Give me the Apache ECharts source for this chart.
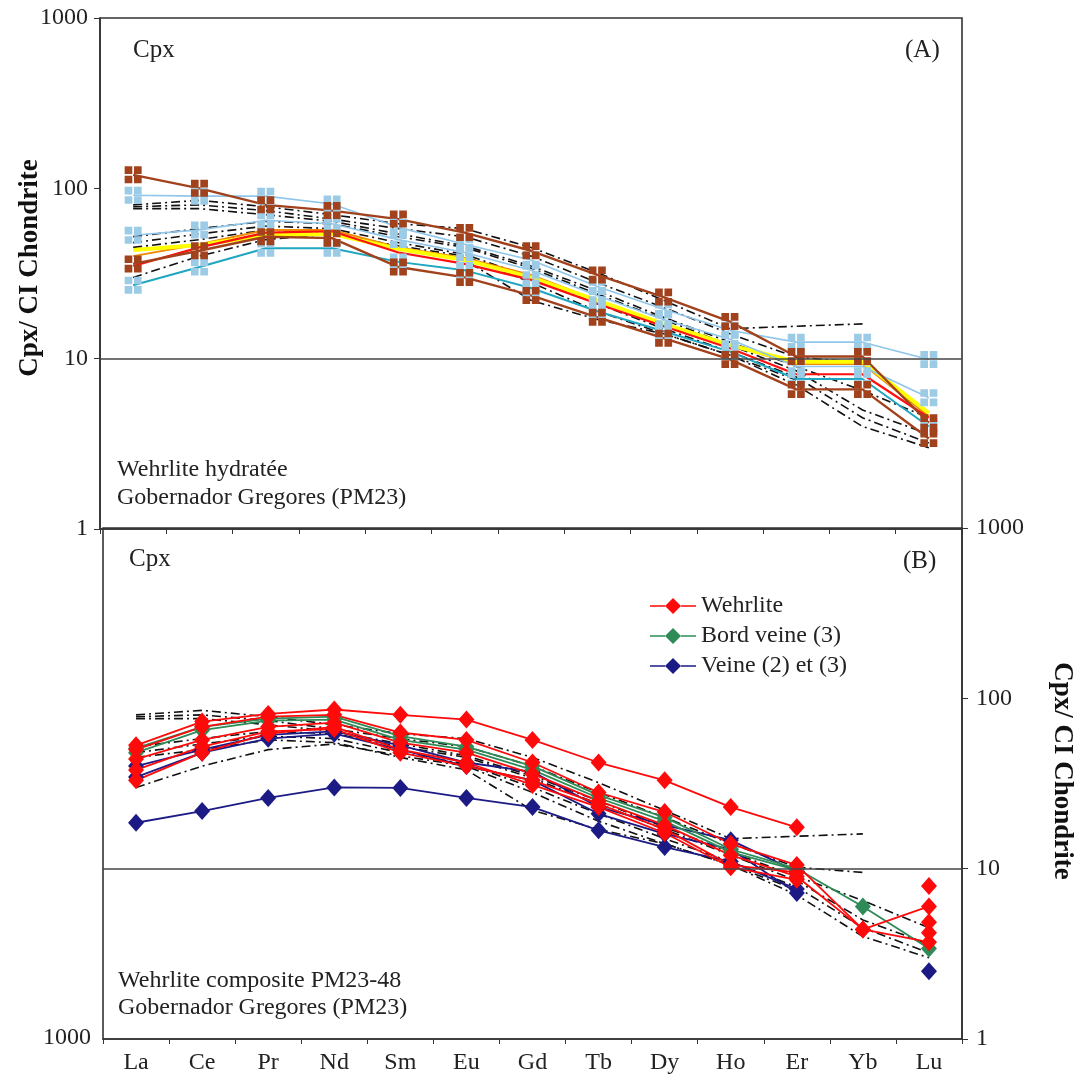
<!DOCTYPE html>
<html>
<head>
<meta charset="utf-8">
<script src="https://cdn.jsdelivr.net/npm/echarts@6/dist/echarts.min.js"></script>
<style>
html,body{margin:0;padding:0;background:#fff;}
#chart{width:1082px;height:1080px;}
</style>
</head>
<body>
<div id="chart"></div>
<script>
// ---------- DATA ----------
const categories = ['La','Ce','Pr','Nd','Sm','Eu','Gd','Tb','Dy','Ho','Er','Yb','Lu'];
const yTickLabels = ['1','10','100','1000'];

// Panel A (Wehrlite hydratée) - clinopyroxene / CI chondrite
const aBrownHigh = [120, 100, 80, 74, 66, 55, 43, 31, 23, 16.5, 10.3, 10.3, 4.2];
const aBrownLow  = [36, 43, 52, 51, 34.5, 30, 23.5, 17.5, 13.2, 9.9, 6.6, 6.6, 3.4];
const aBlueHigh  = [91, 90, 90, 81, 59, 47, 38, 26.5, 19.5, 14.7, 12.5, 12.5, 9.9];
const aBlueMid   = [53, 57, 65, 62, 50, 42, 33, 23.5, 17, 13, 9, 9, 5.9];
const aBlueLow   = [27, 34.5, 44.5, 44.5, 37, 33, 26, 19, 14.5, 11, 7.6, 7.6, 4.0];
const aYellow    = [43.5, 46.5, 53, 54, 44, 38, 30, 22, 16, 12, 9.6, 9.6, 4.8];
const aRed       = [35, 45, 55, 56, 42, 36, 29, 21, 15.5, 11.5, 8.1, 8.1, 4.5];
const aOrange    = [40, 47, 57, 57, 45, 39, 31, 22, 16, 12, 9.3, 9.3, 4.6];

// Reference field (dash-dot), shown in both panels
const ref1 = [80, 85, 78, 70, 62, 58, 45, 32, 22, 15, 15.5, 16, null];
const ref2 = [78, 80, 74, 66, 58, 52, 40, 28, 20, 14, 10.2, 9.5, null];
const ref3 = [76, 76, 70, 64, 54, 46, 35, 25, 17.5, 12.5, 9, 6.5, 4.5];
const ref4 = [52, 58, 64, 62, 52, 45, 34, 24, 17, 12, 8.5, 5, 3.6];
const ref5 = [48, 54, 60, 58, 48, 41, 30, 21, 15, 11, 7.8, 4.5, 3.2];
const ref6 = [45, 50, 57, 55, 45, 38, 22, 17, 14, 10.5, 7, 4, 3.0];
const ref7 = [30, 40, 50, 54, 46, 40, 28, 19, 14, 10.5, 7.5, null, null];

// Panel B (Wehrlite composite PM23-48)
const bWehrlite1 = [53, 73, 81, 86, 80, 75, 57, 42, 33, 23, 17.5, null, 7.9];
const bWehrlite2 = [50, 68, 78, 80, 63, 57, 42, 28, 21.5, 14, 10.5, 4.4, 6.0];
const bWehrlite3 = [44, 57, 68, 72, 55, 48, 36, 25, 18, 12, 9, 4.4, 3.7];
const bWehrlite4 = [33, 48, 62, 68, 50, 42, 31, 23, 16.2, 10.2, 8.6, null, 4.85];
const bWehrlite5 = [38, 52, 64, 66, 48, 40, 33, 24, 17, 10.5, 9.5, null, 4.2];
const bBord1     = [51, 68, 76, 78, 60, 52, 40, 27, 20, 13, 10, 6.0, 3.4];
const bBord2     = [48, 65, 74, 75, 57, 50, 38, 26, 19, 12.5, 9.8, null, null];
const bVeine1    = [40, 50, 61, 64, 53, 42, 37, 23, 18, 14.7, 9.6, null, 2.5];
const bVeine2    = [34.5, 48, 58, 62, 50, 40, 33, 21, 16, 13, 7.2, null, null];
const bVeine3    = [18.6, 21.8, 26, 30, 29.8, 26, 23, 16.8, 13.4, 11, 7.6, null, null];

// ---------- STYLE HELPERS ----------
const FONT = 'Liberation Serif';
const crossSquare = 'path://M0,0H7.2V7.2H0Z M8.8,0H16V7.2H8.8Z M0,8.8H7.2V16H0Z M8.8,8.8H16V16H8.8Z';
const legendIcon = 'path://M0,7.2H15V8.8H0Z M23,0L31,8L23,16L15,8Z M31,7.2H46V8.8H31Z';
const refs = [ref1, ref2, ref3, ref4, ref5, ref6, ref7];

function refSeries(idx) {
  return refs.map(r => ({
    type: 'line', xAxisIndex: idx, yAxisIndex: idx, data: r, symbol: 'none',
    lineStyle: {color: '#111', width: 1.6, type: [9, 4, 2, 4]}, z: 1, silent: true
  }));
}
function aLine(name, data, lineColor, width, markerColor) {
  return {
    type: 'line', name: name, xAxisIndex: 0, yAxisIndex: 0, data: data,
    symbol: markerColor ? crossSquare : 'none', symbolSize: 17, showAllSymbol: true,
    itemStyle: {color: markerColor || lineColor},
    lineStyle: {color: lineColor, width: width}, z: markerColor ? 4 : 3
  };
}
function bLine(name, data, color) {
  return {
    type: 'line', name: name, xAxisIndex: 1, yAxisIndex: 1, data: data,
    symbol: 'diamond', symbolSize: [16, 18], showAllSymbol: true,
    itemStyle: {color: color}, lineStyle: {color: color, width: 1.8}, z: 4
  };
}
const RED = '#ff0a0a', GREEN = '#2e8b57', NAVY = '#1c1a84';
const BROWN = '#a2421c', LBLUE = '#9ccbe6';

const tenLine = {
  silent: true, symbol: 'none', label: {show: false},
  lineStyle: {color: '#444', type: 'solid', width: 1.5},
  data: [{yAxis: 10}]
};

const series = [].concat(
  refSeries(0),
  [
    aLine('a1', aOrange, '#f08a00', 2),
    aLine('a2', aYellow, '#ffff00', 4),
    aLine('a3', aRed, '#ff1010', 2.2),
    aLine('a4', aBlueLow, '#1fa6c0', 2, LBLUE),
    aLine('a5', aBlueMid, '#8fc6ea', 1.6, LBLUE),
    aLine('a6', aBlueHigh, '#8fc6ea', 1.6, LBLUE),
    aLine('a7', aBrownLow, BROWN, 2.4, BROWN),
    aLine('a8', aBrownHigh, BROWN, 2.4, BROWN)
  ],
  refSeries(1),
  [
    bLine('Veine (2) et (3)', bVeine3, NAVY),
    bLine('Veine (2) et (3)', bVeine2, NAVY),
    bLine('Veine (2) et (3)', bVeine1, NAVY),
    bLine('Bord veine (3)', bBord2, GREEN),
    bLine('Bord veine (3)', bBord1, GREEN),
    bLine('Wehrlite', bWehrlite5, RED),
    bLine('Wehrlite', bWehrlite4, RED),
    bLine('Wehrlite', bWehrlite3, RED),
    bLine('Wehrlite', bWehrlite2, RED),
    bLine('Wehrlite', bWehrlite1, RED)
  ]
);
series[0].markLine = tenLine;
series[refs.length + 8].markLine = tenLine;

const labelStyle = {fontFamily: FONT, fontSize: 24, color: '#222'};
const axisLineStyle = {lineStyle: {color: '#333', width: 1.6}};

const option = {
  backgroundColor: '#fff',
  animation: false,
  legend: {
    data: [
      {name: 'Wehrlite', icon: legendIcon},
      {name: 'Bord veine (3)', icon: legendIcon},
      {name: 'Veine (2) et (3)', icon: legendIcon}
    ],
    orient: 'vertical', left: 645, top: 589, itemWidth: 46, itemHeight: 16, itemGap: 6,
    textStyle: {fontFamily: FONT, fontSize: 24, color: '#222'}, selectedMode: false
  },
  grid: [
    {left: 100, top: 18, width: 862, height: 511, show: true, borderColor: '#333', borderWidth: 1.6},
    {left: 103, top: 528, width: 859, height: 511, show: true, borderColor: '#333', borderWidth: 1.6}
  ],
  xAxis: [
    {type: 'category', gridIndex: 0, data: categories, boundaryGap: true,
     axisLine: axisLineStyle, axisTick: {show: true, length: 5, lineStyle: {color: '#333'}},
     axisLabel: {show: false}},
    {type: 'category', gridIndex: 1, data: categories, boundaryGap: true,
     axisLine: axisLineStyle, axisTick: {show: true, length: 5, lineStyle: {color: '#333'}},
     axisLabel: Object.assign({margin: 12}, labelStyle)}
  ],
  yAxis: [
    {type: 'log', gridIndex: 0, logBase: 10, min: 1, max: 1000, position: 'left',
     axisLine: Object.assign({show: true}, axisLineStyle),
     axisTick: {show: true, length: 6, lineStyle: {color: '#333'}},
     minorTick: {show: false}, splitLine: {show: false},
     axisLabel: Object.assign({margin: 12, formatter: v => yTickLabels[Math.round(Math.log10(v))]}, labelStyle)},
    {type: 'log', gridIndex: 1, logBase: 10, min: 1, max: 1000, position: 'right',
     axisLine: Object.assign({show: true}, axisLineStyle),
     axisTick: {show: true, length: 6, lineStyle: {color: '#333'}},
     minorTick: {show: false}, splitLine: {show: false},
     axisLabel: Object.assign({margin: 14, formatter: v => yTickLabels[Math.round(Math.log10(v))]}, labelStyle)}
  ],
  graphic: [
    {type: 'text', left: 133, top: 38, style: {text: 'Cpx', font: '25px ' + FONT, fill: '#222'}},
    {type: 'text', left: 905, top: 38, style: {text: '(A)', font: '25px ' + FONT, fill: '#222'}},
    {type: 'text', left: 117, top: 458, style: {text: 'Wehrlite hydratée', font: '24px ' + FONT, fill: '#222'}},
    {type: 'text', left: 117, top: 486, style: {text: 'Gobernador Gregores (PM23)', font: '24px ' + FONT, fill: '#222'}},
    {type: 'text', left: 129, top: 547, style: {text: 'Cpx', font: '25px ' + FONT, fill: '#222'}},
    {type: 'text', left: 903, top: 549, style: {text: '(B)', font: '25px ' + FONT, fill: '#222'}},
    {type: 'text', left: 118, top: 969, style: {text: 'Wehrlite composite PM23-48', font: '24px ' + FONT, fill: '#222'}},
    {type: 'text', left: 118, top: 996, style: {text: 'Gobernador Gregores (PM23)', font: '24px ' + FONT, fill: '#222'}},
    {type: 'text', x: 91, y: 1038, style: {text: '1000', font: '24px ' + FONT, fill: '#222', textAlign: 'right', textVerticalAlign: 'middle'}},
    {type: 'text', x: 30, y: 268, rotation: Math.PI / 2,
     style: {text: 'Cpx/ CI Chondrite', font: 'bold 27px ' + FONT, fill: '#111', textAlign: 'center', textVerticalAlign: 'middle'}},
    {type: 'text', x: 1062, y: 771, rotation: -Math.PI / 2,
     style: {text: 'Cpx/ CI Chondrite', font: 'bold 27px ' + FONT, fill: '#111', textAlign: 'center', textVerticalAlign: 'middle'}}
  ],
  series: series
};

const chart = echarts.init(document.getElementById('chart'), null, {renderer: 'canvas'});
chart.setOption(option);
</script>
</body>
</html>
